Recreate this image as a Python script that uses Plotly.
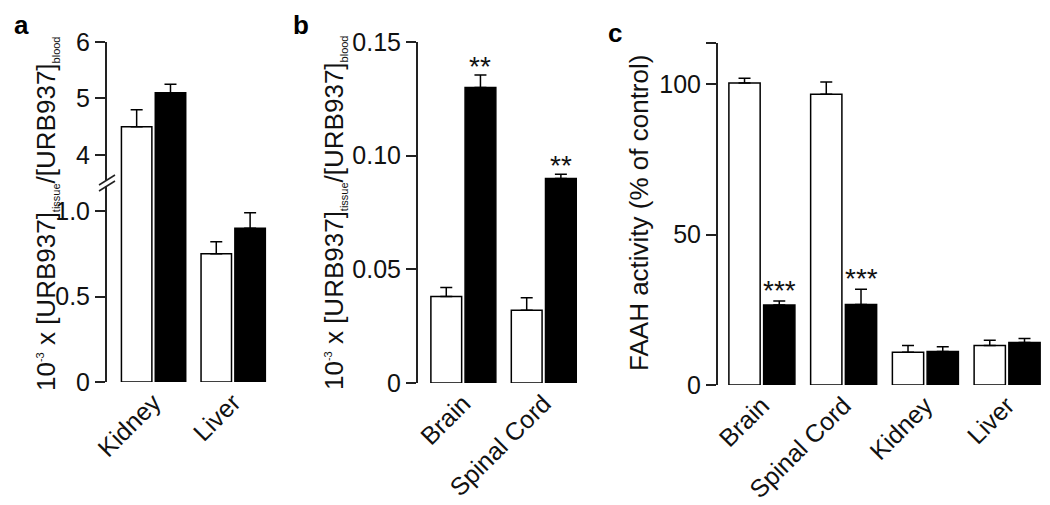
import plotly.graph_objects as go

# panel a: tissue/blood ratio, kidney and liver (broken y axis)
cats_a = ['Kidney', 'Liver']
open_a = [4.5, 0.75]
open_a_err = [0.3, 0.07]
filled_a = [5.1, 0.9]
filled_a_err = [0.15, 0.09]

# panel b: brain and spinal cord
cats_b = ['Brain', 'Spinal Cord']
open_b = [0.038, 0.032]
open_b_err = [0.004, 0.0055]
filled_b = [0.13, 0.09]
filled_b_err = [0.0055, 0.0018]
stars_b = ['**', '**']

# panel c: FAAH activity
cats_c = ['Brain', 'Spinal Cord', 'Kidney', 'Liver']
open_c = [100.4, 96.7, 10.9, 13.1]
open_c_err = [1.6, 4.0, 2.2, 1.8]
filled_c = [26.6, 26.8, 11.1, 14.1]
filled_c_err = [1.3, 5.0, 1.6, 1.4]
stars_c = ['***', '***', '', '']

# the page body has an 8px margin, so the figure is drawn 8px in
PAGE_MARGIN = 8
W, H = 1050 - PAGE_MARGIN, 505 - PAGE_MARGIN
FONT = 'Arial, Liberation Sans, sans-serif'
BARGAP = 0.15


def px(x):
    # window pixel column -> paper fraction
    return (x - PAGE_MARGIN) / W


def py(y):
    # window pixel row -> paper fraction
    return 1 - (y - PAGE_MARGIN) / H


def bars(cats, vals, errs, fill, xa, ya):
    return go.Bar(
        x=cats, y=vals, xaxis=xa, yaxis=ya,
        marker=dict(color=fill, line=dict(color='black', width=1.5)),
        error_y=dict(type='data', symmetric=False, array=errs,
                     arrayminus=[0] * len(errs), color='black',
                     thickness=1.5, width=6),
        showlegend=False, hoverinfo='skip')


data = [
    bars(cats_a, open_a, open_a_err, 'white', 'x', 'y'),
    bars(cats_a, filled_a, filled_a_err, 'black', 'x', 'y'),
    bars(cats_a, open_a, open_a_err, 'white', 'x', 'y2'),
    bars(cats_a, filled_a, filled_a_err, 'black', 'x', 'y2'),
    bars(cats_b, open_b, open_b_err, 'white', 'x2', 'y3'),
    bars(cats_b, filled_b, filled_b_err, 'black', 'x2', 'y3'),
    bars(cats_c, open_c, open_c_err, 'white', 'x3', 'y4'),
    bars(cats_c, filled_c, filled_c_err, 'black', 'x3', 'y4'),
]

tickfont = dict(family=FONT, size=25, color='#111')

xcommon = dict(showline=False, ticks='', showgrid=False, zeroline=False,
               tickangle=-45, tickfont=tickfont,
               automargin=False, fixedrange=True)
ycommon = dict(showline=True, linecolor='#222', linewidth=2, ticks='outside',
               ticklen=10, tickwidth=2, tickcolor='#222', showgrid=False,
               zeroline=False, tickfont=tickfont, automargin=False,
               fixedrange=True)

brk = 183  # pixel row of the axis break in panel a

layout = go.Layout(
    width=W, height=H, margin=dict(l=0, r=0, t=0, b=0),
    paper_bgcolor='white', plot_bgcolor='white',
    barmode='group', bargap=BARGAP, bargroupgap=0.1,
    xaxis=dict(xcommon, domain=[px(107), px(273)], anchor='y',
               range=[-0.585, 1.5]),
    yaxis=dict(ycommon, domain=[py(382), py(brk)], anchor='x',
               range=[0, 1.164], tickvals=[0, 0.5, 1.0],
               ticktext=['0', '0.5', '1.0']),
    yaxis2=dict(ycommon, domain=[py(brk), py(42)], anchor='x',
                range=[3.504, 6], tickvals=[4, 5, 6]),
    xaxis2=dict(xcommon, domain=[px(418), px(584)], anchor='y3',
                range=[-0.564, 1.5]),
    yaxis3=dict(ycommon, domain=[py(383), py(42)], anchor='x2',
                range=[0, 0.15], tickvals=[0, 0.05, 0.10, 0.15],
                ticktext=['0', '0.05', '0.10', '0.15']),
    xaxis3=dict(xcommon, domain=[px(718), px(1048)], anchor='y4',
                range=[-0.537, 3.5]),
    yaxis4=dict(ycommon, domain=[py(385), py(43)], anchor='x3',
                range=[0, 113.7], tickvals=[0, 50, 100, 113.7],
                ticktext=['0', '50', '100', '']),
)

fig = go.Figure(data=data, layout=layout)

# axis break marks
fig.add_shape(type='line', xref='paper', yref='paper',
              x0=px(107), x1=px(107), y0=py(brk + 3), y1=py(brk - 3),
              line=dict(color='white', width=4), layer='above')
for dy in (-3, 3):
    fig.add_shape(type='line', xref='paper', yref='paper',
                  x0=px(99), x1=px(115), y0=py(brk + dy + 5), y1=py(brk + dy - 5),
                  line=dict(color='#222', width=1.5), layer='above')

# significance stars over the filled bars
off = (1 - BARGAP) / 4
starfont = dict(family=FONT, size=28, color='#111')
for i, s in enumerate(stars_b):
    if s:
        fig.add_annotation(x=i + off, y=filled_b[i] + filled_b_err[i],
                           xref='x2', yref='y3', text=s, showarrow=False,
                           yanchor='bottom', yshift=-9, font=starfont)
for i, s in enumerate(stars_c):
    if s:
        fig.add_annotation(x=i + off, y=filled_c[i] + filled_c_err[i],
                           xref='x3', yref='y4', text=s, showarrow=False,
                           yanchor='bottom', yshift=-7, font=starfont)

# y axis titles
small = '<span style="font-size:11px">%s</span>'
ratio_title = ('10<sup>' + small % '-3' + '</sup> x [URB937]<sub>' + small % 'tissue'
               + '</sub>/[URB937]<sub>' + small % 'blood' + '</sub>')
titlefont = dict(family=FONT, size=26, color='#111')
fig.add_annotation(x=px(46), y=py(214), xref='paper', yref='paper',
                   text=ratio_title, textangle=-90, showarrow=False,
                   xanchor='center', yanchor='middle', font=titlefont)
fig.add_annotation(x=px(335), y=py(213), xref='paper', yref='paper',
                   text=ratio_title, textangle=-90, showarrow=False,
                   xanchor='center', yanchor='middle', font=titlefont)
fig.add_annotation(x=px(639), y=py(213), xref='paper', yref='paper',
                   text='FAAH activity (% of control)', textangle=-90,
                   showarrow=False, xanchor='center', yanchor='middle',
                   font=titlefont)

# panel letters
lettfont = dict(family=FONT, size=26, color='black')
fig.add_annotation(x=px(12), y=py(25), xref='paper', yref='paper',
                   text='<b>a</b>', showarrow=False,
                   xanchor='left', yanchor='middle', font=lettfont)
fig.add_annotation(x=px(291), y=1, xref='paper', yref='paper',
                   text='<b>b</b>', showarrow=False,
                   xanchor='left', yanchor='top', font=lettfont)
fig.add_annotation(x=px(606), y=py(33), xref='paper', yref='paper',
                   text='<b>c</b>', showarrow=False,
                   xanchor='left', yanchor='middle', font=lettfont)

fig.write_html('out.html')
